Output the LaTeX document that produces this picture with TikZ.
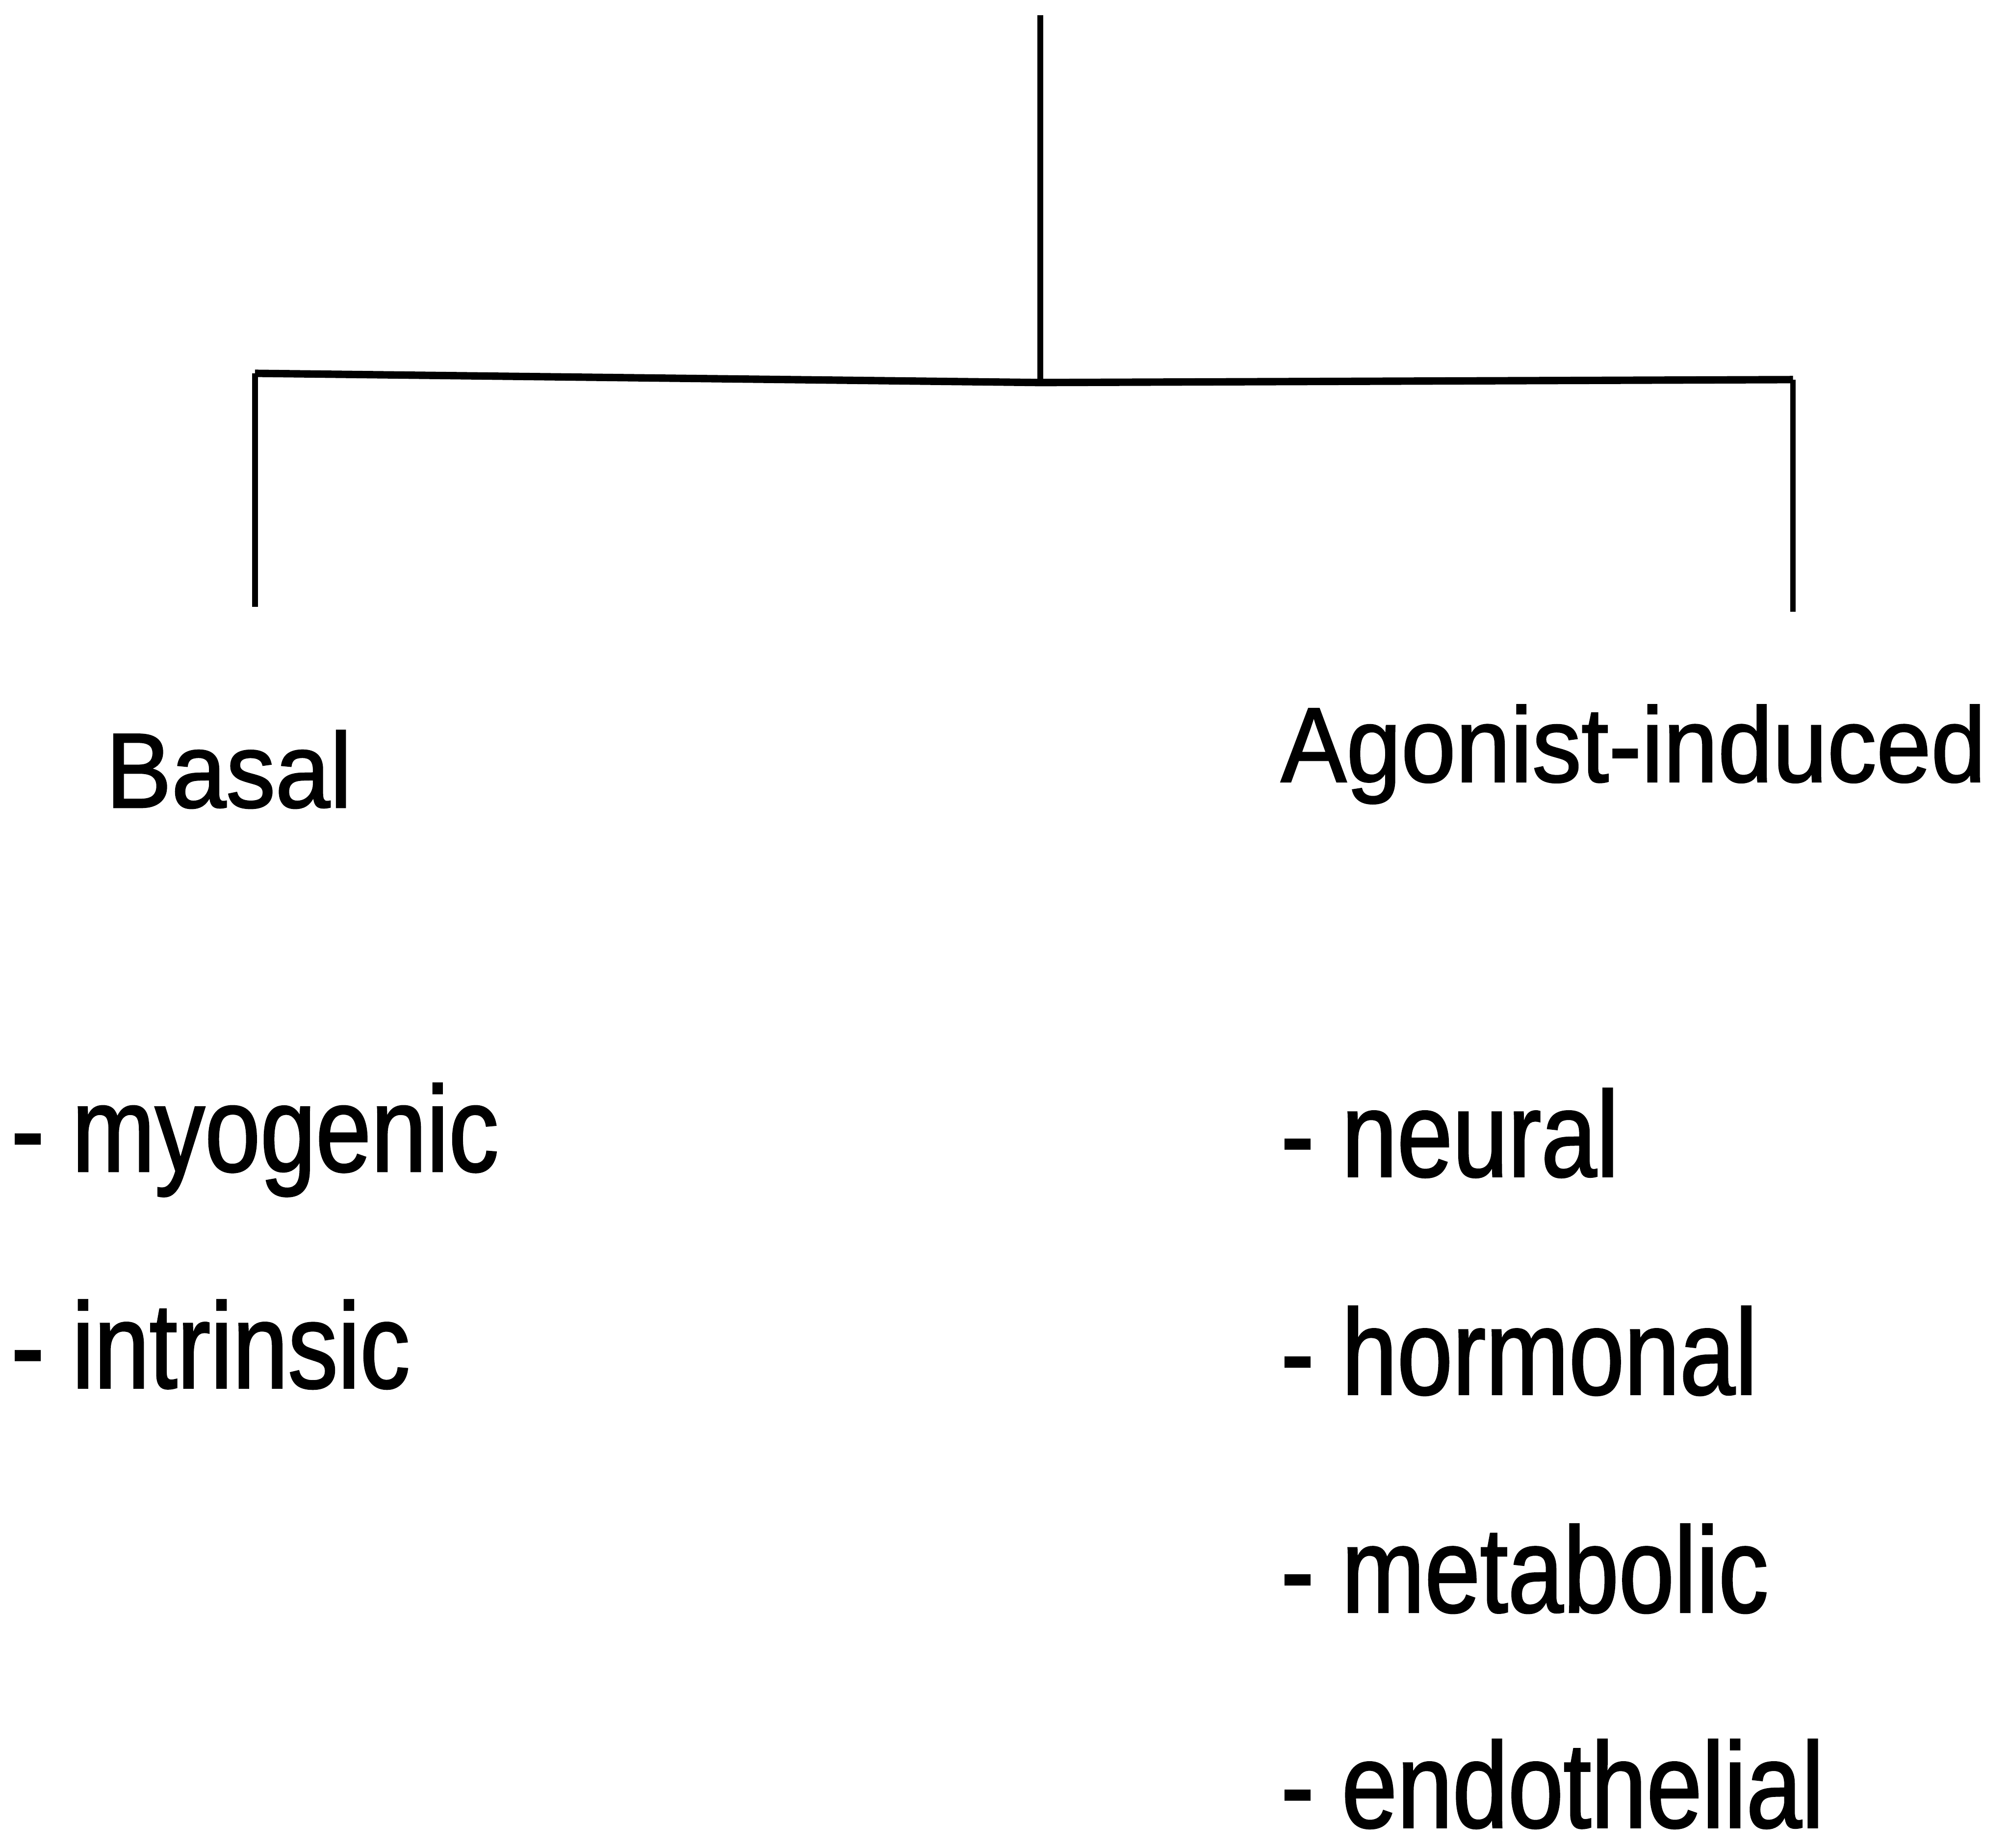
\documentclass[tikz,border=0pt]{standalone}
\usepackage{fontspec}
\setmainfont{Liberation Sans}
\newfontfamily\headfont[FakeStretch=0.925,FakeBold=1.4]{Liberation Sans}
\newfontfamily\itemfont[FakeStretch=0.82,FakeBold=1.4]{Liberation Sans}
\tikzset{
  head/.style={anchor=base west, inner sep=0pt, font=\headfont\fontsize{23.6}{28}\selectfont},
  item/.style={anchor=base west, inner sep=0pt, font=\itemfont\fontsize{27}{32}\selectfont},
  stem/.style={line width=1.27pt},
  bar/.style={line width=1.65pt, line join=miter}
}
\begin{document}
\begin{tikzpicture}
\useasboundingbox (0,0) rectangle (15.68,-14.42);

\coordinate (top) at (8.12,-0.12);
\coordinate (hub) at (8.12,-2.985);
\coordinate (lcorner) at (1.99,-2.913);
\coordinate (rcorner) at (13.994,-2.962);
\coordinate (lfoot) at (1.99,-4.736);
\coordinate (rfoot) at (13.994,-4.775);

\draw[stem] (top) -- (hub);
\draw[bar] (lcorner) -- (hub) -- (rcorner);
\draw[stem] (lcorner) -- (lfoot);
\draw[stem] (rcorner) -- (rfoot);

\node[head] (basal) at (0.82,-6.30) {Basal};
\node[head] (agonist) at (9.99,-6.10) {Agonist-induced};

\node[item] (myogenic) at (0.08,-9.14) {- myogenic};
\node[item] (intrinsic) at (0.08,-10.83) {- intrinsic};

\node[item] (neural) at (9.99,-9.18) {- neural};
\node[item] (hormonal) at (9.99,-10.88) {- hormonal};
\node[item] (metabolic) at (9.99,-12.58) {- metabolic};
\node[item] (endothelial) at (9.99,-14.26) {- endothelial};
\end{tikzpicture}
\end{document}
